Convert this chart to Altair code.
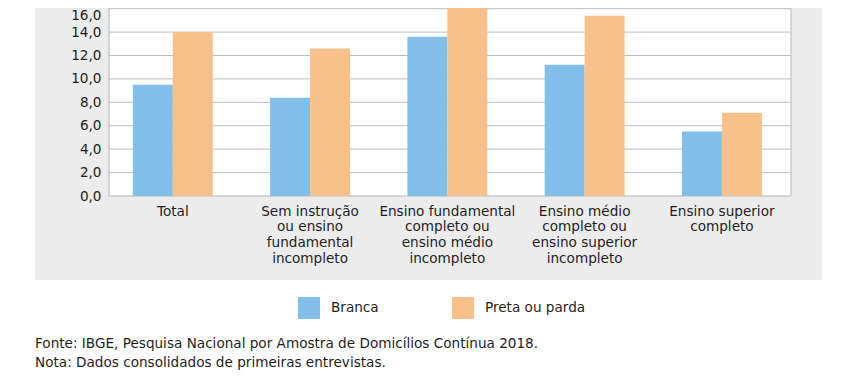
import altair as alt
import pandas as pd

categories = [
    "Total",
    "Sem instrução|ou ensino|fundamental|incompleto",
    "Ensino fundamental|completo ou|ensino médio|incompleto",
    "Ensino médio|completo ou|ensino superior|incompleto",
    "Ensino superior|completo",
]
series = ["Branca", "Preta ou parda"]
branca = [9.5, 8.4, 13.6, 11.2, 5.5]
preta = [14.0, 12.6, 17.9, 15.4, 7.1]
y_ticks = [0, 2, 4, 6, 8, 10, 12, 14, 16]
footer = [
    "Fonte: IBGE, Pesquisa Nacional por Amostra de Domicílios Contínua 2018.",
    "Nota: Dados consolidados de primeiras entrevistas.",
]
colors = ["#81bee8", "#f8c08a"]

W, H = 682, 196
FONT = "DejaVu Sans"
FS = 13.6
TXT = "#1e1e1e"

rows = []
for c, b, p in zip(categories, branca, preta):
    rows.append({"cat": c, "serie": series[0], "val": b})
    rows.append({"cat": c, "serie": series[1], "val": p})
df = pd.DataFrame(rows)

yscale = alt.Scale(domain=[0, 16.74], nice=False, zero=True)
xscale = alt.Scale(domain=categories, paddingInner=0.418, paddingOuter=0.193, align=0.45)
yaxis = alt.Axis(
    title=None,
    values=y_ticks,
    labelExpr="replace(format(datum.value, '.1f'), '.', ',')",
    labelFontSize=FS,
    labelFont=FONT,
    labelColor=TXT,
    labelPadding=8,
    labelBaseline={"condition": {"test": "datum.value >= 16", "value": "top"}, "value": "middle"},
    ticks=False,
    domain=False,
    grid=False,
    zindex=1,
)

one = pd.DataFrame({"a": [0]})

gray = alt.Chart(one).mark_rect(color="#ececec").encode(
    x=alt.value(-74), x2=alt.value(W + 31), y=alt.value(-10), y2=alt.value(280)
)
white = alt.Chart(one).mark_rect(fill="white", stroke="#b5b5b5", strokeWidth=1).encode(
    x=alt.value(0), x2=alt.value(W), y=alt.value(0), y2=alt.value(H)
)
grid = alt.Chart(pd.DataFrame({"val": y_ticks[1:]})).mark_rule(color="#bdbdbd", strokeWidth=1).encode(
    y=alt.Y("val:Q", scale=yscale, axis=yaxis)
)

bars = alt.Chart(df).mark_bar(clip=True).encode(
    x=alt.X(
        "cat:N",
        sort=categories,
        scale=xscale,
        axis=alt.Axis(
            title=None,
            labelAngle=0,
            labelExpr="split(datum.label, '|')",
            labelAlign="center",
            labelBaseline="top",
            labelPadding=8,
            labelLineHeight=15.7,
            labelFontSize=FS,
            labelFont=FONT,
            labelColor=TXT,
            ticks=False,
            domain=False,
            grid=False,
            zindex=1,
        ),
    ),
    xOffset=alt.XOffset("serie:N", sort=series, scale=alt.Scale(paddingInner=0, paddingOuter=0)),
    y=alt.Y("val:Q", scale=yscale, axis=yaxis),
    color=alt.Color(
        "serie:N",
        sort=series,
        scale=alt.Scale(domain=series, range=colors),
        legend=alt.Legend(
            title=None,
            orient="none",
            direction="horizontal",
            legendX=189,
            legendY=297,
            symbolType="square",
            symbolSize=484,
            symbolStrokeWidth=0,
            labelFontSize=FS,
            labelFont=FONT,
            labelColor=TXT,
            labelOffset=11,
            columnPadding=73,
        ),
    ),
)

foot = alt.Chart(pd.DataFrame({"t": ["\n".join(footer)]})).mark_text(
    align="left", baseline="top", lineBreak="\n", lineHeight=19,
    font=FONT, fontSize=FS, color=TXT
).encode(x=alt.value(-74), y=alt.value(337), text="t:N")

chart = alt.layer(gray, white, grid, bars, foot).properties(
    width=W,
    height=H,
    autosize=alt.AutoSizeParams(type="none"),
    padding={"left": 101, "top": -8, "right": 46, "bottom": 175},
).configure_view(stroke=None)

chart.save("out.html", embed_options={"renderer": "svg", "actions": False})
